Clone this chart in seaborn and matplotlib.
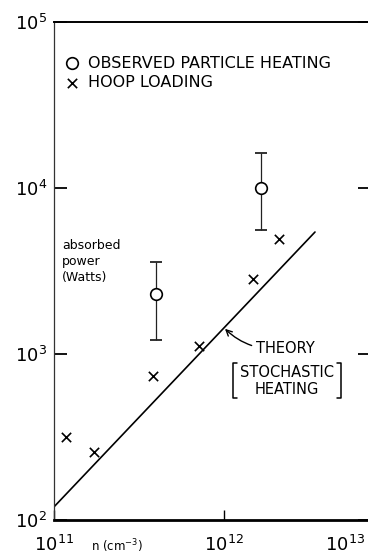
"""Absorbed power vs density: observed heating, hoop loading and theory."""

import matplotlib
matplotlib.use("Agg")
import matplotlib.pyplot as plt
import numpy as np
import pandas as pd
import seaborn as sns

# observed particle heating (circles with error bars)
obs_n = [4.0e11, 1.65e12]
obs_p = [2300, 10000]
obs_lo = [1210, 5580]
obs_hi = [3580, 16200]

# hoop loading (crosses)
hoop_n = [1.18e11, 1.72e11, 3.82e11, 7.1e11, 1.48e12, 2.1e12]
hoop_p = [316, 257, 736, 1117, 2830, 4930]

# theory (stochastic heating), straight line in log-log
theory_n = [1.0e11, 3.43e12]
theory_p = [120, 5430]

y_ticks = [1e2, 1e3, 1e4, 1e5]
x_ticks = [1e11, 1e12]

sns.set_style("ticks")
plt.rcParams["font.family"] = ["DejaVu Sans"]
plt.rcParams["mathtext.fontset"] = "dejavusans"
for key in ("text.color", "axes.labelcolor", "xtick.color", "ytick.color",
            "axes.edgecolor"):
    plt.rcParams[key] = "black"

fig = plt.figure(figsize=(3.68, 5.54), dpi=100)
ax = fig.add_axes([54 / 368, 34 / 554, 316 / 368, 498 / 554])
ax.set_xscale("log")
ax.set_yscale("log")

obs = pd.DataFrame({"n": obs_n, "p": obs_p})
hoop = pd.DataFrame({"n": hoop_n, "p": hoop_p})
theory = pd.DataFrame({"n": theory_n, "p": theory_p})

sns.lineplot(data=theory, x="n", y="p", color="black", lw=1.2, ax=ax,
             legend=False)
ax.errorbar(obs_n, obs_p,
            yerr=[np.subtract(obs_p, obs_lo), np.subtract(obs_hi, obs_p)],
            fmt="none", ecolor="#222222", elinewidth=0.9, capsize=4,
            capthick=1.3, zorder=2)
sns.scatterplot(data=obs, x="n", y="p", marker="o", s=70, facecolor="white",
                edgecolor="black", linewidth=1.2, zorder=3, ax=ax,
                label="OBSERVED PARTICLE HEATING")
sns.scatterplot(data=hoop, x="n", y="p", marker="x", s=45, color="black",
                linewidth=1.2, zorder=3, ax=ax, label="HOOP LOADING")

ax.set_xlim(1e11, 10 ** (11 + 316 / 170))
ax.set_ylim(1e2, 1e5)
ax.set_xticks(x_ticks)
ax.set_yticks(y_ticks)
ax.minorticks_off()
ax.tick_params(axis="y", which="major", direction="in", length=9, width=1.3,
               right=True, labelsize=13, pad=5)
ax.tick_params(axis="x", which="major", direction="in", length=7, width=1.0,
               labelsize=13, pad=11)
ax.text(0.984, -0.030, r"$10^{13}$", transform=ax.transAxes, ha="right",
        va="top", fontsize=13, clip_on=False)

for side, lw in (("left", 0.9), ("bottom", 2.0), ("top", 1.4), ("right", 1.0)):
    ax.spines[side].set_linewidth(lw)
    ax.spines[side].set_visible(True)
ax.spines["left"].set_color("#333333")

ax.set_xlabel(r"n (cm$^{-3}$)", fontsize=8.5)
ax.xaxis.set_label_coords(0.2, -0.034)
ax.set_ylabel("absorbed\npower\n(Watts)", rotation=0, fontsize=9,
              ha="left", va="center", multialignment="left", linespacing=1.3)
ax.yaxis.set_label_coords(0.025, 0.52)

ax.legend(loc="upper left", bbox_to_anchor=(0.0, 0.955), frameon=False,
          fontsize=11.5, handletextpad=0.5, handlelength=0.9,
          labelspacing=0.3, borderaxespad=0.3)

# theory annotation
tip_p = 10 ** np.interp(12, np.log10(theory_n), np.log10(theory_p))
ax.annotate("THEORY", xy=(1e12, tip_p), xytext=(0.64, 0.345),
            textcoords="axes fraction", ha="left", va="center", fontsize=10.5,
            arrowprops=dict(arrowstyle="->", color="black", lw=1.0,
                            shrinkA=1, shrinkB=1,
                            connectionstyle="arc3,rad=-0.25"))
ax.text(0.737, 0.279, "STOCHASTIC\nHEATING", transform=ax.transAxes,
        ha="center", va="center", fontsize=10.5, linespacing=1.15)
for xs in ([0.579, 0.566, 0.566, 0.579], [0.896, 0.908, 0.908, 0.896]):
    ax.plot(xs, [0.315, 0.315, 0.245, 0.245], color="black", lw=1.1,
            transform=ax.transAxes, clip_on=False)

fig.savefig("out.png", dpi=100)
